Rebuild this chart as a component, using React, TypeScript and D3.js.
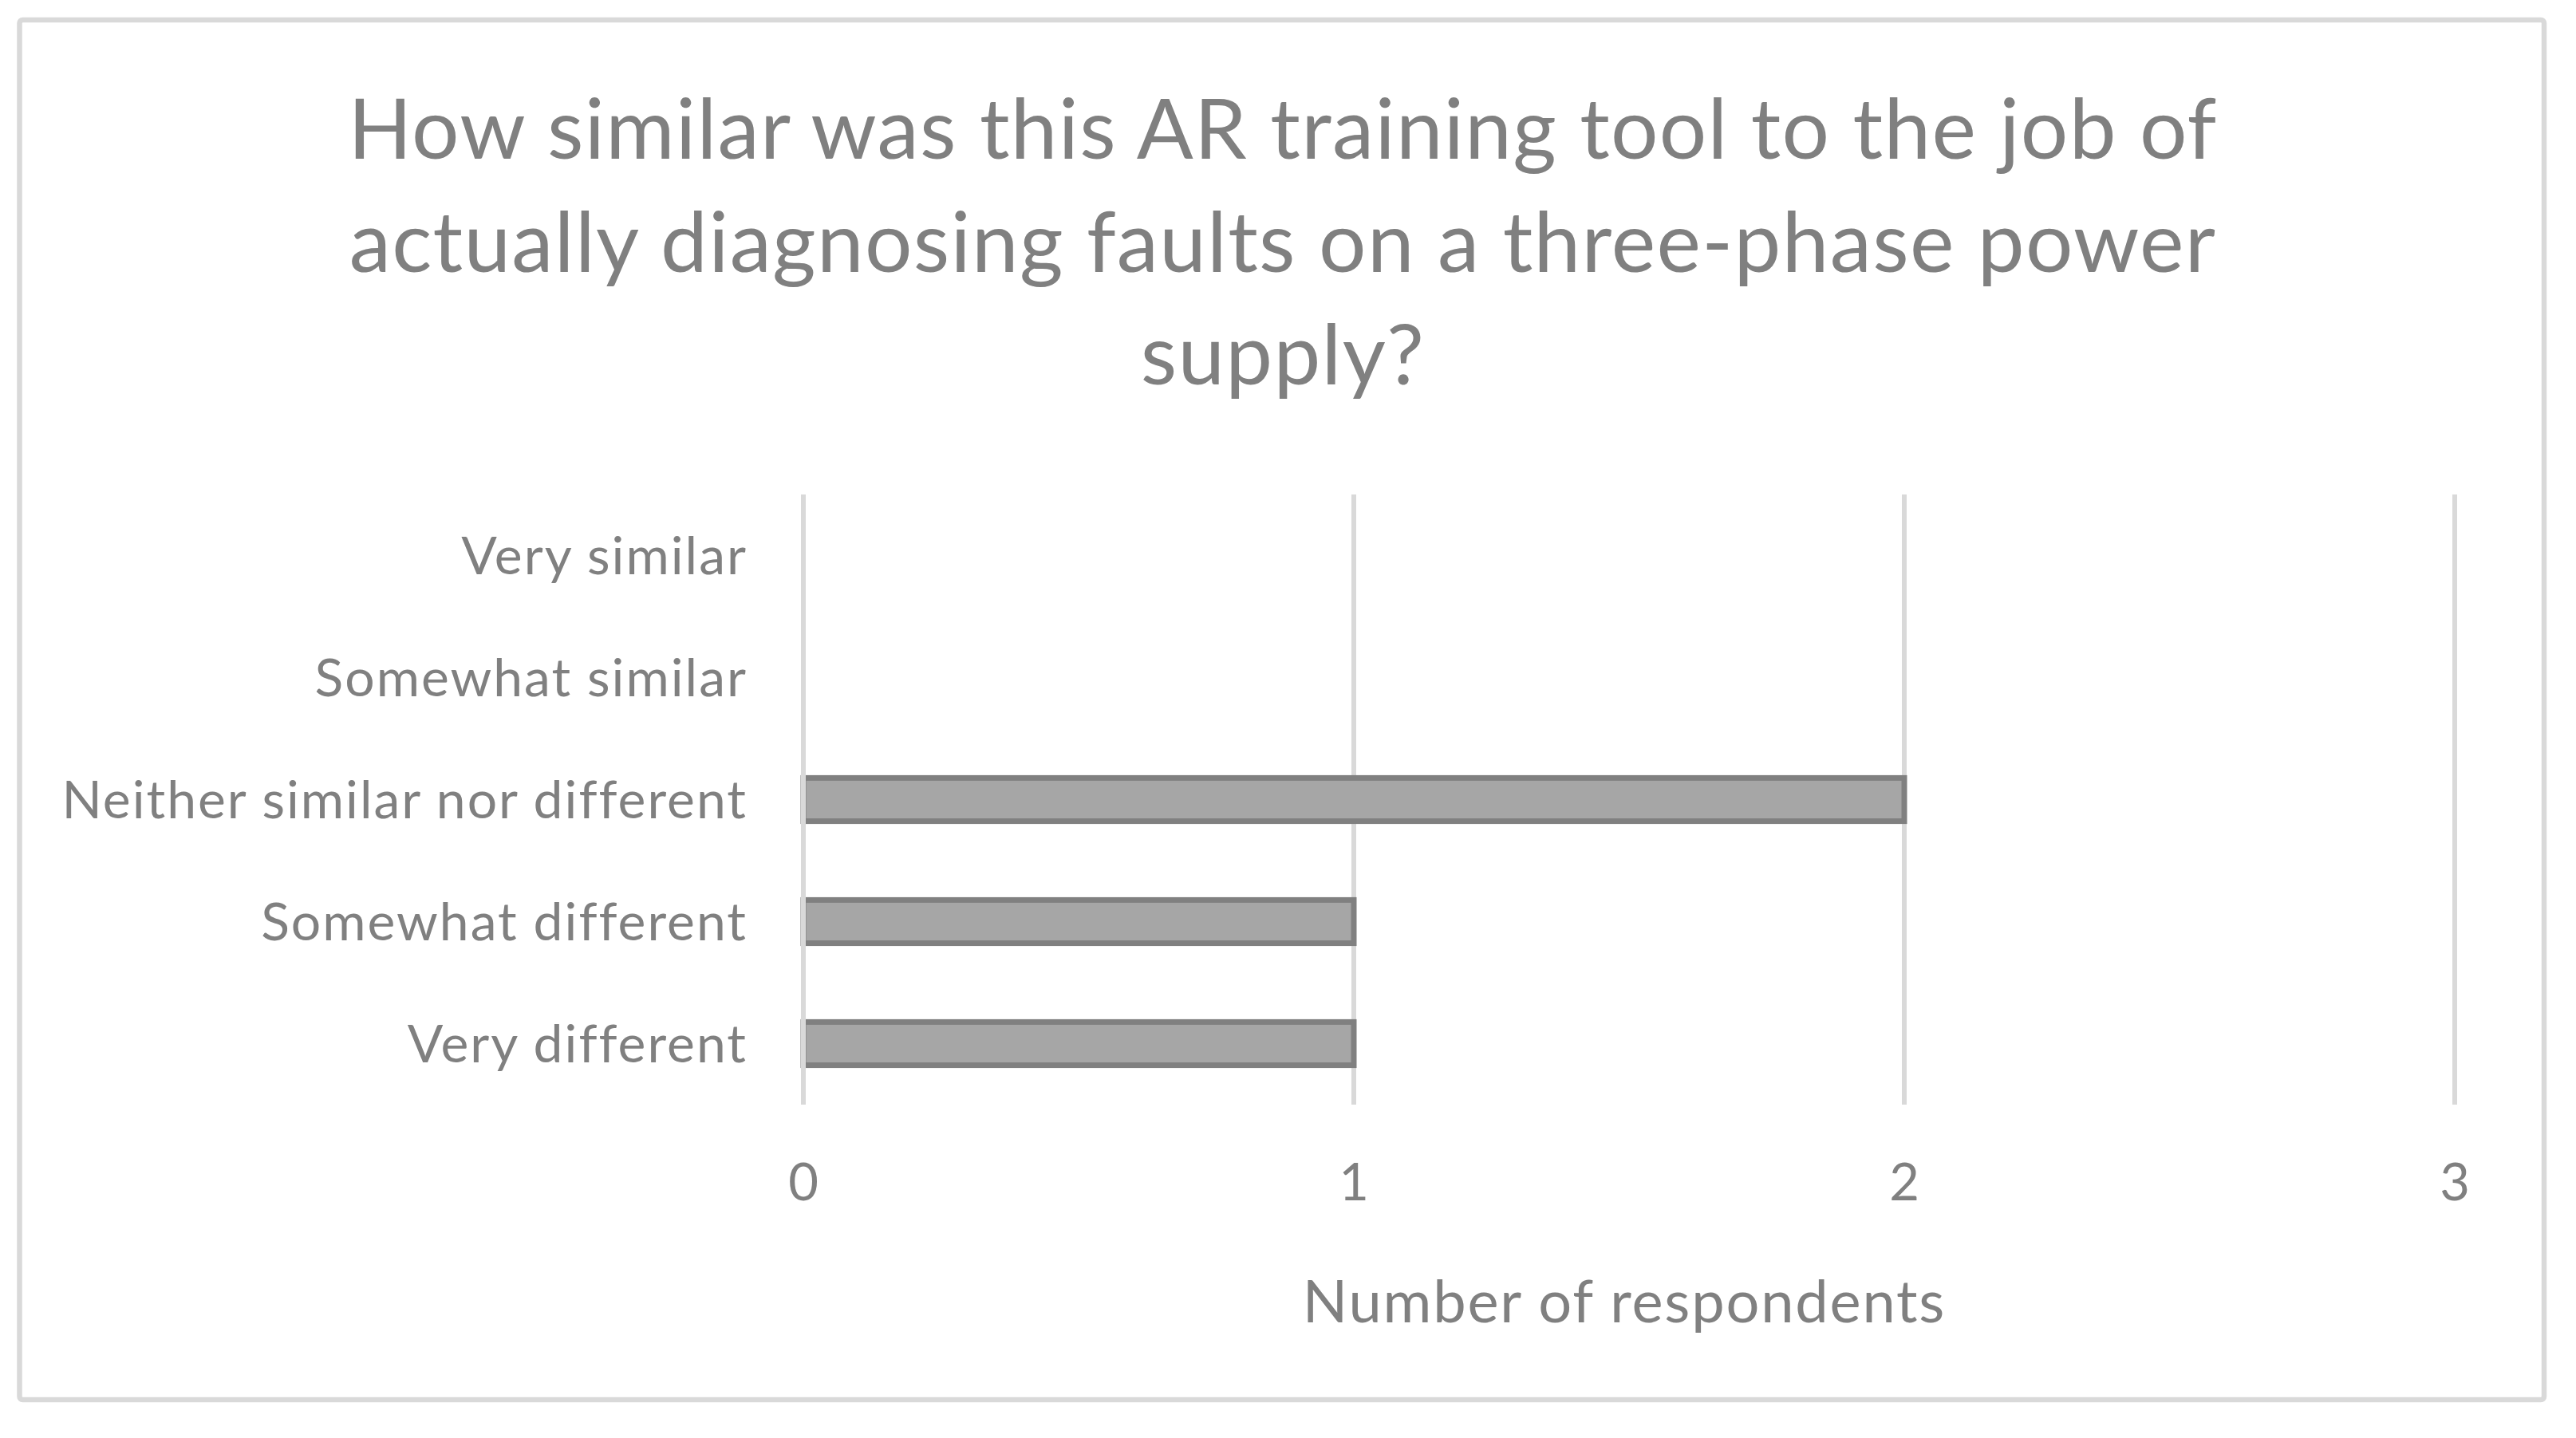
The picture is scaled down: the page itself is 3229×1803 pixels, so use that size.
import React from "react";
import { scaleLinear, scaleBand } from "d3";

const titleLines = [
  "How similar was this AR training tool to the job of",
  "actually diagnosing faults on a three-phase power",
  "supply?",
];
const categories = [
  "Very similar",
  "Somewhat similar",
  "Neither similar nor different",
  "Somewhat different",
  "Very different",
];
const respondents = [0, 0, 2, 1, 1];
const xTicks = [0, 1, 2, 3];
const xTitle = "Number of respondents";

const W = 3229;
const H = 1803;
const plot = { left: 1007, right: 3077, top: 620, bottom: 1385 };
const grey = "#808080";
const gridColor = "#d9d9d9";
const font = "Lato, 'Open Sans', sans-serif";

const App = () => {
  const x = scaleLinear().domain([0, 3]).range([plot.left, plot.right]);
  const y = scaleBand()
    .domain(categories)
    .range([plot.top, plot.bottom])
    .paddingInner(0.6)
    .paddingOuter(0.3);
  const bw = y.bandwidth();
  const stroke = 7;

  return (
    <svg
      width={W}
      height={H}
      style={{ position: "absolute", left: 0, top: 0, background: "#fff" }}
      fontFamily={font}
    >
      <rect
        x={24.5}
        y={25}
        width={3189 - 24.5}
        height={1755 - 25}
        rx={4}
        fill="#fff"
        stroke={gridColor}
        strokeWidth={6.5}
      />

      {titleLines.map((line, i) => (
        <text
          key={i}
          x={1608}
          y={199 + i * 141.5}
          textAnchor="middle"
          fontSize={105}
          letterSpacing={1.3}
          fill={grey}
        >
          {line}
        </text>
      ))}

      {/* gridlines */}
      {xTicks
        .filter((t) => t > 0)
        .map((t) => (
          <line
            key={t}
            x1={x(t)}
            x2={x(t)}
            y1={plot.top}
            y2={plot.bottom}
            stroke={gridColor}
            strokeWidth={6}
          />
        ))}

      {/* bars */}
      {categories.map((c, i) =>
        respondents[i] > 0 ? (
          <rect
            key={c}
            x={x(0)}
            y={(y(c) as number) + stroke / 2}
            width={x(respondents[i]) - x(0)}
            height={bw - stroke}
            fill="#a6a6a6"
            stroke={grey}
            strokeWidth={stroke}
          />
        ) : null
      )}

      {/* vertical axis line */}
      <line
        x1={x(0)}
        x2={x(0)}
        y1={plot.top}
        y2={plot.bottom}
        stroke={gridColor}
        strokeWidth={6}
      />

      {/* category labels */}
      {categories.map((c) => (
        <text
          key={c}
          x={937}
          y={(y(c) as number) + bw / 2 + 23}
          textAnchor="end"
          fontSize={66}
          letterSpacing={2}
          fill={grey}
        >
          {c}
        </text>
      ))}

      {/* tick labels */}
      {xTicks.map((t) => (
        <text
          key={t}
          x={x(t)}
          y={1505}
          textAnchor="middle"
          fontSize={65}
          fill={grey}
        >
          {t}
        </text>
      ))}

      <text
        x={2036}
        y={1658}
        textAnchor="middle"
        fontSize={74}
        letterSpacing={1.8}
        fill={grey}
      >
        {xTitle}
      </text>
    </svg>
  );
};

export default App;
